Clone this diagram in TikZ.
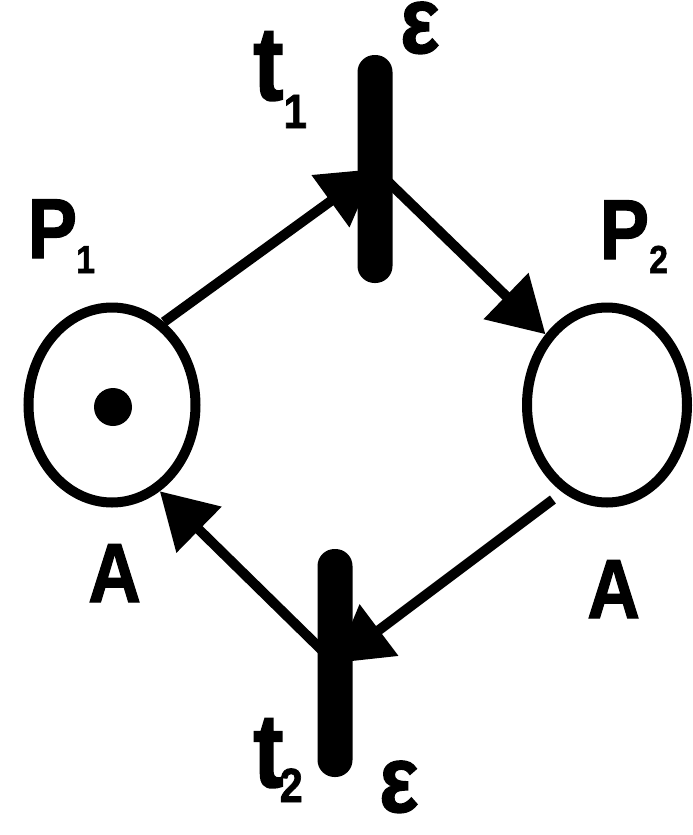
\documentclass[tikz,border=0pt]{standalone}
\usepackage{fontspec}
\setmainfont{Liberation Sans}
\newfontfamily\labfont{Liberation Sans Bold}[FakeBold=1.5]
\usetikzlibrary{arrows.meta,shapes.geometric}
\newcommand\nx[1]{\scalebox{0.87}[1]{#1}}
\newcommand\fs[1]{\fontsize{#1}{#1}\selectfont}
\begin{document}
\begin{tikzpicture}[x=1pt,y=-1pt,
  place/.style={draw, line width=10pt, ellipse, inner sep=0pt},
  bar/.style={fill, rectangle, rounded corners=17pt, inner sep=0pt, minimum width=35pt, minimum height=228pt},
  arc/.style={line width=10pt, -{Triangle[length=55pt,width=62pt]}},
  lab/.style={inner sep=0pt, anchor=base west, font=\labfont}]
\useasboundingbox (0,0) rectangle (693,835);
\fill[white] (0,0) rectangle (693,835);
% places
\node[place, minimum width=167pt, minimum height=195pt] (p1) at (112,405) {};
\node[place, minimum width=160pt, minimum height=195pt] (p2) at (607,405) {};
\node[circle, fill, minimum size=38pt, inner sep=0pt] (tok) at (113,407) {};
% transitions
\node[bar] (t1) at (375,169) {};
\node[bar] (t2) at (335,663) {};
% arcs
\draw[arc] (p1.58) -- (t1.center);
\draw[arc] (t1.center) -- (p2.131);
\draw[arc, shorten <=12pt] (p2.243) -- (t2.center);
\draw[arc] (t2.center) -- (p1.-61);
% labels
\node[lab] (lp1) at (27.6,258) {\fs{85}\nx{P}\kern-1pt\raisebox{-15pt}{\fs{39}\nx{1}}};
\node[lab] (lp2) at (599.6,259) {\fs{85}\nx{P}\raisebox{-14pt}{\fs{39}\nx{2}}};
\node[lab] (la1) at (88,602) {\fs{84}\nx{A}};
\node[lab] (la2) at (587,618) {\fs{84}\nx{A}};
\node[lab] (lt1) at (253,100) {\fs{105}\nx{t}\raisebox{-28pt}{\fs{48}\nx{1}}};
\node[lab] (lt2) at (253,787) {\fs{105}\nx{t}\kern-4pt\raisebox{-15pt}{\fs{48}\nx{2}}};
\node[lab] (le1) at (400,53) {\fs{95}\nx{ε}};
\node[lab] (le2) at (379,812) {\fs{95}\nx{ε}};
\end{tikzpicture}
\end{document}
